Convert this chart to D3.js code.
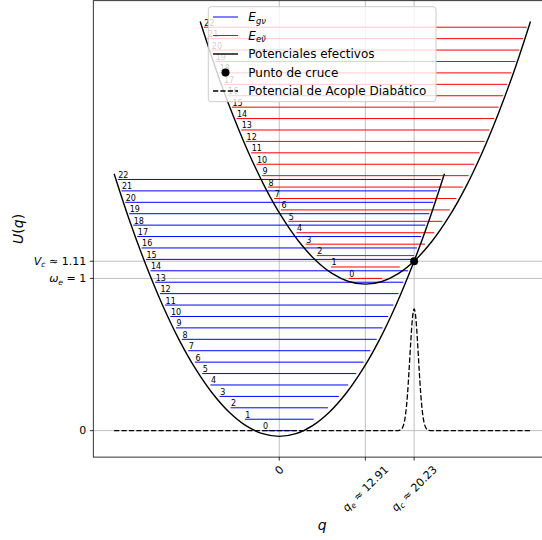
<!DOCTYPE html>
<html>
<head>
<meta charset="utf-8">
<script src="https://cdnjs.cloudflare.com/ajax/libs/d3/7.8.5/d3.min.js"></script>
<style>
  body { margin: 0; background: #fff; }
  text { font-family: "DejaVu Sans", sans-serif; }
</style>
</head>
<body>
<script>
// values
var omega = 0.075;               // spacing of both ladders
var qE = 12.91, qC = 20.23, vC = 1.113;
var level0HalfWidth = 2.5;       // level 0 is drawn as a short stub

var groundLevels = [0.000, 0.075, 0.150, 0.225, 0.300, 0.375, 0.450, 0.525, 0.600, 0.675, 0.750, 0.825,
                    0.900, 0.975, 1.050, 1.125, 1.200, 1.275, 1.350, 1.425, 1.500, 1.575, 1.650];
var excitedLevels = [1.000, 1.075, 1.150, 1.225, 1.300, 1.375, 1.450, 1.525, 1.600, 1.675, 1.750, 1.825,
                     1.900, 1.975, 2.050, 2.125, 2.200, 2.275, 2.350, 2.425, 2.500, 2.575, 2.650];

// effective potentials (points read along each parabola)
var groundPotQ = [-24.77, -22.5, -20, -17.5, -15, -12.5, -10, -7.5, -5, -2.5, 0,
                  2.5, 5, 7.5, 10, 12.5, 15, 17.5, 20, 22.5, 24.77];
var groundPotU = [1.688, 1.386, 1.088, 0.824, 0.595, 0.402, 0.244, 0.121, 0.033, -0.020, -0.0375,
                  -0.020, 0.033, 0.121, 0.244, 0.402, 0.595, 0.824, 1.088, 1.386, 1.688];
var excitedPotQ = [-11.86, -9.59, -7.09, -4.59, -2.09, 0.41, 2.91, 5.41, 7.91, 10.41, 12.91,
                   15.41, 17.91, 20.41, 22.91, 25.41, 27.91, 30.41, 32.91, 35.41, 37.68];
var excitedPotU = [2.688, 2.386, 2.088, 1.824, 1.595, 1.402, 1.244, 1.121, 1.033, 0.980, 0.9625,
                   0.980, 1.033, 1.121, 1.244, 1.402, 1.595, 1.824, 2.088, 2.386, 2.688];

// diabatic coupling
var couplingQ = [-24.77, 17.73, 17.98, 18.23, 18.48, 18.73, 18.98, 19.23, 19.48, 19.73, 19.98, 20.23,
                 20.48, 20.73, 20.98, 21.23, 21.48, 21.73, 21.98, 22.23, 22.48, 22.73, 37.68];
var couplingU = [0, 0, 0.002, 0.006, 0.019, 0.051, 0.119, 0.236, 0.403, 0.590, 0.741, 0.800,
                 0.741, 0.590, 0.403, 0.236, 0.119, 0.051, 0.019, 0.006, 0.002, 0, 0];

var xTickValues = [0, qE, qC];
var xTickLabels = ["0", "q_{e} ≈ 12.91", "q_{c} ≈ 20.23"];
var yTickValues = [0, 1, vC];
var yTickLabels = ["0", "ω_{e} = 1", "V_{c} ≈ 1.11"];

var legendLabels = ["E_{gν}", "E_{eν̃}", "Potenciales efectivos", "Punto de cruce", "Potencial de Acople Diabático"];

var width = 542, height = 540;
var plotLeft = 93.3, plotRight = 551.3, plotTop = 0.7, plotBottom = 457.1;

// limits with 5% padding, like the original
var allQ = groundPotQ.concat(excitedPotQ, couplingQ);
var allU = groundPotU.concat(excitedPotU, couplingU);
var qMin = d3.min(allQ), qMax = d3.max(allQ), uMin = d3.min(allU), uMax = d3.max(allU);
var qPad = (qMax - qMin) * 0.05, uPad = (uMax - uMin) * 0.05;

var x = d3.scaleLinear().domain([qMin - qPad, qMax + qPad]).range([plotLeft, plotRight]);
var y = d3.scaleLinear().domain([uMin - uPad, uMax + uPad]).range([plotBottom, plotTop]);

var svg = d3.select("body").append("svg")
    .attr("width", width)
    .attr("height", height);

// tiny mathtext: letters italic, _{..} subscript
function mathParts(s) {
  var parts = [], re = /_\{([^}]*)\}|([A-Za-zα-ω])|([^_A-Za-zα-ω]+)/g, m;
  while ((m = re.exec(s))) {
    if (m[1] != null) parts.push({ t: m[1], it: true, sub: true });
    else if (m[2]) parts.push({ t: m[2], it: true });
    else parts.push({ t: m[3] });
  }
  return parts;
}
function addMath(textSel, s, size) {
  var shift = 0;
  mathParts(s).forEach(function(p) {
    var ts = textSel.append("tspan").text(p.t);
    if (p.it) ts.attr("font-style", "italic");
    var target = p.sub ? size * 0.22 : 0;
    if (target !== shift) { ts.attr("dy", target - shift); shift = target; }
    if (p.sub) ts.attr("font-size", size * 0.7);
  });
}

// grid
var grid = svg.append("g").attr("stroke", "#b0b0b0").attr("stroke-width", 0.8);
grid.selectAll("line.gx").data(xTickValues).enter().append("line")
    .attr("x1", function(d) { return x(d); }).attr("x2", function(d) { return x(d); })
    .attr("y1", plotTop).attr("y2", plotBottom);
grid.selectAll("line.gy").data(yTickValues).enter().append("line")
    .attr("y1", function(d) { return y(d); }).attr("y2", function(d) { return y(d); })
    .attr("x1", plotLeft).attr("x2", plotRight);

// vibrational ladders
function ladder(levels, base, center) {
  return levels.map(function(E, v) {
    var hw = v === 0 ? level0HalfWidth : Math.sqrt(2 * (E - base)) / omega;
    return { E: E, v: v, q0: center - hw, q1: center + hw };
  });
}
var ground = ladder(groundLevels, 0, 0);
var excited = ladder(excitedLevels, 1, qE);

function drawLadder(data, color) {
  svg.append("g").selectAll("line").data(data).enter().append("line")
      .attr("x1", function(d) { return x(d.q0); })
      .attr("x2", function(d) { return x(d.q1); })
      .attr("y1", function(d) { return y(d.E); })
      .attr("y2", function(d) { return y(d.E); })
      .attr("stroke", color)
      .attr("stroke-width", 1);
}
drawLadder(ground, "#0000ff");
drawLadder(excited, "#ff0000");

// coupling
var line = d3.line().x(function(d) { return x(d[0]); }).y(function(d) { return y(d[1]); });
svg.append("path")
    .attr("d", line.curve(d3.curveMonotoneX)(d3.zip(couplingQ, couplingU)))
    .attr("fill", "none")
    .attr("stroke", "#000")
    .attr("stroke-width", 1.3)
    .attr("stroke-dasharray", "5.2,2.2");

// potentials
var potLine = d3.line().x(function(d) { return x(d[0]); }).y(function(d) { return y(d[1]); })
    .curve(d3.curveCatmullRom.alpha(0.5));
[d3.zip(groundPotQ, groundPotU), d3.zip(excitedPotQ, excitedPotU)].forEach(function(pts) {
  svg.append("path")
      .attr("d", potLine(pts))
      .attr("fill", "none")
      .attr("stroke", "#000")
      .attr("stroke-width", 1.4);
});

// crossing point
svg.append("circle")
    .attr("cx", x(qC)).attr("cy", y(vC)).attr("r", 4)
    .attr("fill", "#000");

// level numbers
svg.append("g").selectAll("text").data(ground.concat(excited)).enter().append("text")
    .attr("x", function(d) { return x(d.q0) + 0.5; })
    .attr("y", function(d) { return y(d.E) - 1.5; })
    .attr("font-size", 8)
    .attr("fill", "#000")
    .text(function(d) { return d.v; });

// spines
svg.append("rect")
    .attr("x", plotLeft).attr("y", plotTop)
    .attr("width", plotRight - plotLeft).attr("height", plotBottom - plotTop)
    .attr("fill", "none").attr("stroke", "#000").attr("stroke-width", 0.8);

// x ticks, labels rotated 45 and centred on the tick
var tickSize = 11;
xTickValues.forEach(function(v, i) {
  svg.append("line")
      .attr("x1", x(v)).attr("x2", x(v))
      .attr("y1", plotBottom).attr("y2", plotBottom + 3.5)
      .attr("stroke", "#000").attr("stroke-width", 0.8);
  var t = svg.append("text")
      .attr("text-anchor", "middle")
      .attr("dy", "0.35em")
      .attr("font-size", tickSize);
  addMath(t, xTickLabels[i], tickSize);
  var w = t.node().getComputedTextLength();
  var cy = plotBottom + 6.5 + 0.7071 * (w + tickSize) / 2;
  t.attr("transform", "translate(" + x(v) + "," + cy + ") rotate(-45)");
});

// y ticks
yTickValues.forEach(function(v, i) {
  svg.append("line")
      .attr("x1", plotLeft - 3.5).attr("x2", plotLeft)
      .attr("y1", y(v)).attr("y2", y(v))
      .attr("stroke", "#000").attr("stroke-width", 0.8);
  var t = svg.append("text")
      .attr("x", plotLeft - 7)
      .attr("y", y(v))
      .attr("dy", "0.35em")
      .attr("text-anchor", "end")
      .attr("font-size", tickSize);
  addMath(t, yTickLabels[i], tickSize);
});

// axis labels
var xl = svg.append("text")
    .attr("x", (plotLeft + plotRight) / 2)
    .attr("y", 530)
    .attr("text-anchor", "middle")
    .attr("font-size", 14);
addMath(xl, "q", 14);
var yl = svg.append("text")
    .attr("transform", "translate(23," + (plotTop + plotBottom) / 2 + ") rotate(-90)")
    .attr("text-anchor", "middle")
    .attr("font-size", 14);
addMath(yl, "U(q)", 14);

// legend
var lg = svg.append("g");
lg.append("rect")
    .attr("x", 208.3).attr("y", 6.7).attr("width", 227.7).attr("height", 95)
    .attr("rx", 3)
    .attr("fill", "#fff").attr("fill-opacity", 0.8)
    .attr("stroke", "#cccccc").attr("stroke-width", 1);
legendLabels.forEach(function(label, i) {
  var cy = 17 + i * 18.5;
  if (i === 3) {
    lg.append("circle").attr("cx", 225.5).attr("cy", cy).attr("r", 4).attr("fill", "#000");
  } else {
    var h = lg.append("line")
        .attr("x1", 213).attr("x2", 238).attr("y1", cy).attr("y2", cy)
        .attr("stroke", ["#0000ff", "#ff0000", "#000", null, "#000"][i])
        .attr("stroke-width", [1, 1, 1.4, 0, 1.3][i]);
    if (i === 4) h.attr("stroke-dasharray", "5.2,2.2");
  }
  var t = lg.append("text")
      .attr("x", 248.3).attr("y", cy)
      .attr("dy", "0.35em")
      .attr("font-size", 12);
  if (i < 2) addMath(t, label, 12);
  else t.text(label);
});
</script>
</body>
</html>
